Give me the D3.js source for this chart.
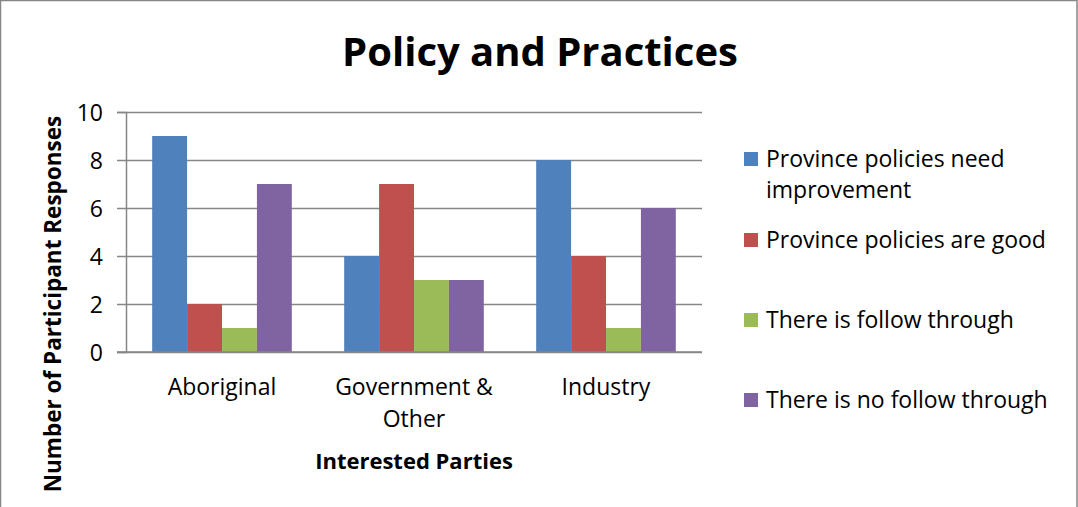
<!DOCTYPE html>
<html><head><meta charset="utf-8">
<script src="https://cdn.jsdelivr.net/npm/d3@7"></script>
<style>html,body{margin:0;padding:0;background:#fff;overflow:hidden}text{font-family:"Open Sans",sans-serif;fill:#000}</style>
</head><body>
<svg id="c" width="1078" height="507"></svg>
<script>
const categories = ["Aboriginal", "Government & Other", "Industry"];
const categoryLines = [["Aboriginal"], ["Government &", "Other"], ["Industry"]];
const seriesNames = ["Province policies need improvement", "Province policies are good", "There is follow through", "There is no follow through"];
const legendLines = [["Province policies need", "improvement"], ["Province policies are good"], ["There is follow through"], ["There is no follow through"]];
const seriesColors = ["#4F81BD", "#C0504D", "#9BBB59", "#8064A2"];
const needImprovement = [9, 4, 8];
const areGood = [2, 7, 4];
const followThrough = [1, 3, 1];
const noFollowThrough = [7, 3, 6];
const yTicks = [0, 2, 4, 6, 8, 10];
const title = "Policy and Practices";
const xTitle = "Interested Parties";
const yTitle = "Number of Participant Responses";

const seriesValues = [needImprovement, areGood, followThrough, noFollowThrough];
const svg = d3.select("#c");
svg.append("rect").attr("x",0.5).attr("y",0.5).attr("width",1076.5).attr("height",520)
  .attr("fill","#fff").attr("stroke","#868686").attr("stroke-width",1.5);

const L=126, R=702, T=112, B=352;
const y = d3.scaleLinear().domain([0,10]).range([B,T]);
const x0 = d3.scaleBand().domain(categories).range([L,R]).padding(0);
const bw = x0.bandwidth()/5.5;
const x1 = d3.scaleBand().domain(seriesNames).range([bw*0.75, x0.bandwidth()-bw*0.75]).padding(0);

// gridlines
const gy = svg.append("g").attr("transform",`translate(${L},0)`)
  .call(d3.axisLeft(y).tickValues(yTicks).tickSize(-(R-L)).tickFormat(""));
gy.selectAll(".tick line").attr("stroke","#868686").attr("stroke-width",1.5);
gy.select(".domain").remove();
// tick marks
const gt = svg.append("g").attr("transform",`translate(${L},0)`)
  .call(d3.axisLeft(y).tickValues(yTicks).tickSize(9).tickPadding(14).tickFormat(d3.format("d")));
gt.select(".domain").attr("stroke","#868686").attr("stroke-width",1.5);
gt.selectAll(".tick line").attr("stroke","#868686").attr("stroke-width",1.5);
gt.selectAll(".tick text").style("font-size","23px").style("font-family","'Open Sans',sans-serif").attr("fill","#000").attr("dy","0.35em");

// bars
const groups = svg.append("g").selectAll("g").data(categories).join("g")
  .attr("transform",d=>`translate(${x0(d)},0)`);
groups.selectAll("rect").data((c,ci)=>seriesNames.map((s,si)=>({s,si,v:seriesValues[si][ci]})))
  .join("rect")
  .attr("x",d=>x1(d.s)).attr("width",x1.bandwidth())
  .attr("y",d=>y(d.v)).attr("height",d=>y(0)-y(d.v))
  .attr("fill",d=>seriesColors[d.si]);

// x axis line
svg.append("line").attr("x1",L-9).attr("x2",R).attr("y1",B).attr("y2",B)
  .attr("stroke","#868686").attr("stroke-width",1.5);

// category labels
categories.forEach((c,i)=>{
  const t = svg.append("text").attr("x",x0(c)+x0.bandwidth()/2).attr("y",395)
    .attr("text-anchor","middle").style("font-size","23px");
  categoryLines[i].forEach((ln,j)=>t.append("tspan").attr("x",x0(c)+x0.bandwidth()/2).attr("dy",j?32:0).text(ln));
});

svg.append("text").attr("x",540).attr("y",66).attr("text-anchor","middle")
  .style("font-size","40px").style("font-weight","bold").text(title);
svg.append("text").attr("x",(L+R)/2).attr("y",469).attr("text-anchor","middle")
  .style("font-size","22px").style("font-weight","bold").text(xTitle);
svg.append("text").attr("transform","translate(61,304) rotate(-90)").attr("text-anchor","middle")
  .style("font-size","22.5px").style("font-weight","bold").text(yTitle);

// legend
const legY = [159, 240, 320, 400];
seriesNames.forEach((s,i)=>{
  svg.append("rect").attr("x",744).attr("y",legY[i]-7).attr("width",14).attr("height",14).attr("fill",seriesColors[i]);
  const t = svg.append("text").attr("x",766).attr("y",legY[i]+8).style("font-size","23px");
  legendLines[i].forEach((ln,j)=>t.append("tspan").attr("x",766).attr("dy",j?31:0).text(ln));
});
</script>
</body></html>
